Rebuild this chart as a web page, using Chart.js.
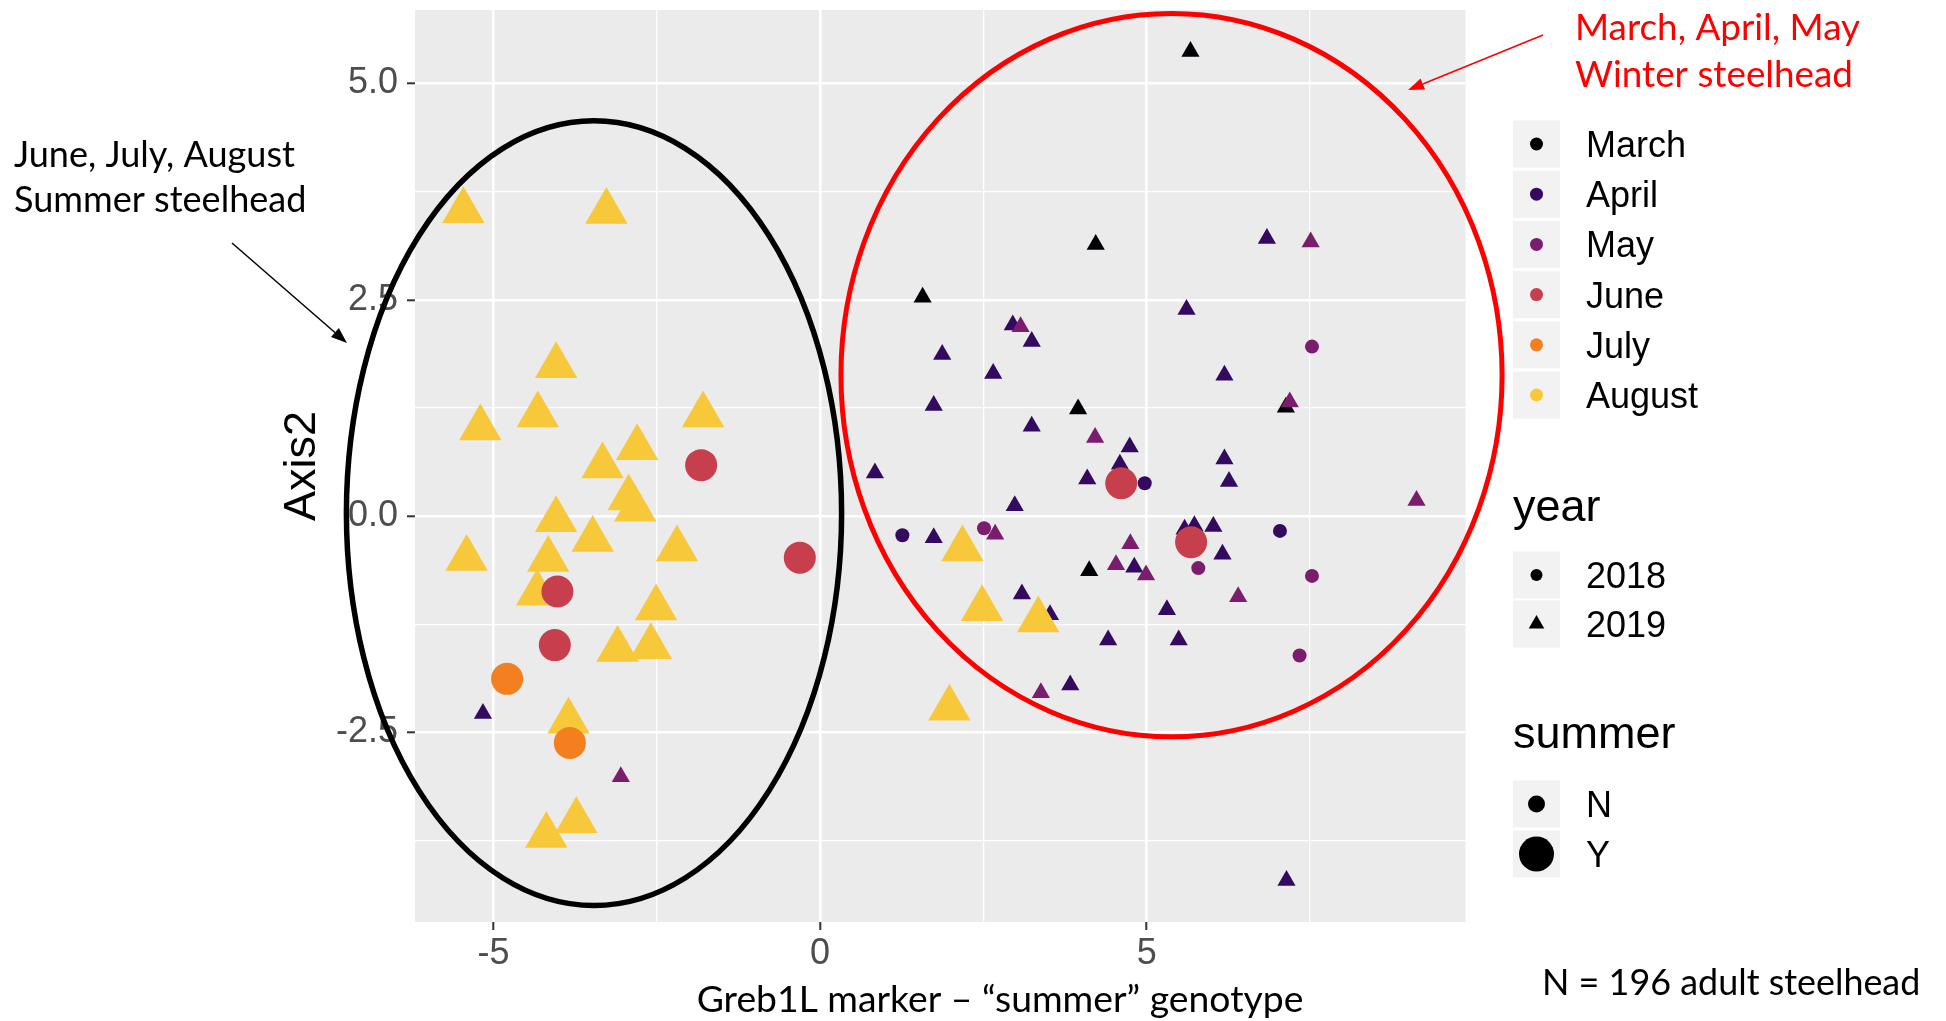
<!DOCTYPE html>
<html>
<head>
<meta charset="utf-8">
<title>Greb1L summer genotype – steelhead</title>
<script src="https://cdn.jsdelivr.net/npm/chart.js@4.4.1/dist/chart.umd.min.js"></script>
<style>
    html, body { margin: 0; padding: 0; background: #ffffff; }
    #wrap { position: relative; width: 1946px; height: 1021px; }
</style>
</head>
<body>
<div id="wrap"><canvas id="chart" width="1946" height="1021"></canvas></div>
<script>
/* ==========================================================================
   資料
   ========================================================================== */

// 座標軸範圍與刻度
const xRange = [-6.20, 9.88];
const yRange = [-4.69, 5.85];
const xMajorTicks = [-5, 0, 5];
const xTickLabels = ['-5', '0', '5'];
const xMinorTicks = [-2.5, 2.5, 7.5];
const yMajorTicks = [-2.5, 0, 2.5, 5];
const yTickLabels = ['-2.5', '0.0', '2.5', '5.0'];
const yMinorTicks = [-3.75, -1.25, 1.25, 3.75];

// 圖例分類
const months = ['March', 'April', 'May', 'June', 'July', 'August'];
const monthColors = ['#000004', '#330A5F', '#7B1D6F', '#C73E4C', '#F37F1E', '#F7C93A'];
const years = ['2018', '2019'];
const summerLevels = ['N', 'Y'];

// 各組資料點 [Greb1L, Axis2]
const march2019 = [[5.67, 5.37], [4.22, 3.14], [1.57, 2.53], [3.95, 1.24], [7.13, 1.26], [4.12, -0.63]];
const april2018 = [[4.97, 0.38], [1.26, -0.22], [7.04, -0.17]];
const april2019 = [
    [6.84, 3.21], [5.61, 2.39], [2.95, 2.21], [3.24, 2.02], [1.87, 1.87], [2.65, 1.65],
    [6.19, 1.63], [1.74, 1.28], [3.24, 1.04], [4.74, 0.80], [6.19, 0.66], [4.59, 0.60],
    [0.84, 0.50], [6.26, 0.40], [4.09, 0.43], [2.98, 0.12], [1.74, -0.25], [5.73, -0.11],
    [5.58, -0.15], [6.02, -0.12], [6.16, -0.44], [4.81, -0.59], [3.09, -0.90], [3.52, -1.14],
    [5.31, -1.08], [4.41, -1.43], [5.49, -1.43], [3.83, -1.95], [7.14, -4.21], [-5.16, -2.28]
];
const may2018 = [[7.53, 1.96], [2.51, -0.14], [5.79, -0.60], [7.53, -0.69], [7.34, -1.61]];
const may2019 = [
    [7.51, 3.17], [3.07, 2.19], [7.19, 1.32], [4.21, 0.91], [9.13, 0.18], [2.68, -0.21],
    [4.75, -0.32], [4.53, -0.56], [4.99, -0.68], [6.40, -0.93], [3.38, -2.04], [-3.05, -3.01]
];
const june2018 = [[-1.82, 0.59], [-0.31, -0.48], [-4.02, -0.87], [-4.06, -1.49], [4.61, 0.38], [5.68, -0.30]];
const july2018 = [[-4.79, -1.88], [-3.83, -2.62]];
const august2019 = [
    [-5.46, 3.53], [-3.27, 3.52], [-4.04, 1.74], [-5.20, 1.02], [-4.32, 1.17], [-1.79, 1.17],
    [-2.80, 0.79], [-3.33, 0.58], [-2.93, 0.21], [-2.83, 0.08], [-4.04, -0.04], [-3.48, -0.27],
    [-5.41, -0.49], [-4.16, -0.50], [-2.19, -0.38], [-4.33, -0.89], [-2.51, -1.06], [-3.10, -1.54],
    [-2.59, -1.51], [-3.85, -2.37], [-3.73, -3.52], [-4.19, -3.69], [2.18, -0.38], [2.48, -1.07],
    [3.34, -1.20], [1.98, -2.22]
];

// 註解文字
const summerNote = ['June, July, August', 'Summer steelhead'];
const winterNote = ['March, April, May', 'Winter steelhead'];
const sampleNote = 'N = 196 adult steelhead';
const xTitle = 'Greb1L marker – “summer” genotype';
const yTitle = 'Axis2';

/* ==========================================================================
   資料集設定
   ========================================================================== */

// month / year / summer 索引，order 越小越晚畫（在上層）
const groups = [
    { points: march2019, month: 0, year: 1, summer: 0, order: 8 },
    { points: april2018, month: 1, year: 0, summer: 0, order: 7 },
    { points: april2019, month: 1, year: 1, summer: 0, order: 6 },
    { points: may2018, month: 2, year: 0, summer: 0, order: 5 },
    { points: may2019, month: 2, year: 1, summer: 0, order: 4 },
    { points: august2019, month: 5, year: 1, summer: 1, order: 3 },
    { points: june2018, month: 3, year: 0, summer: 1, order: 2 },
    { points: july2018, month: 4, year: 0, summer: 1, order: 1 }
];

function markerRadius(year, summer) {
    if (year === 1) return summer ? 24.5 : 10.5;   // 三角形
    return summer ? 16 : 7;                        // 圓形
}

const datasets = groups.map(g => ({
    label: months[g.month] + ' ' + years[g.year] + ' ' + summerLevels[g.summer],
    data: g.points.map(p => ({ x: p[0], y: p[1] })),
    order: g.order,
    pointStyle: g.year === 1 ? 'triangle' : 'circle',
    pointRadius: markerRadius(g.year, g.summer),
    pointHoverRadius: markerRadius(g.year, g.summer),
    backgroundColor: monthColors[g.month],
    borderWidth: 0,
    pointBorderWidth: 0
}));

/* ==========================================================================
   繪圖工具
   ========================================================================== */

const SANS = "'Liberation Sans', Arial, sans-serif";
const CALIBRI_LIKE = "Lato, 'Open Sans', sans-serif";

function fitFontSize(ctx, text, family, targetWidth) {
    ctx.font = '100px ' + family;
    return 100 * targetWidth / ctx.measureText(text).width;
}

function drawEllipse(ctx, xs, ys, e, color, width) {
    const cx = xs.getPixelForValue(e.cx);
    const cy = ys.getPixelForValue(e.cy);
    const rx = Math.abs(xs.getPixelForValue(e.cx + e.rx) - cx);
    const ry = Math.abs(ys.getPixelForValue(e.cy + e.ry) - cy);
    ctx.save();
    ctx.strokeStyle = color;
    ctx.lineWidth = width;
    ctx.beginPath();
    ctx.ellipse(cx, cy, rx, ry, 0, 0, Math.PI * 2);
    ctx.stroke();
    ctx.restore();
}

function drawArrow(ctx, x1, y1, x2, y2, color, width, headLen, headHalf) {
    const ang = Math.atan2(y2 - y1, x2 - x1);
    const bx = x2 - Math.cos(ang) * headLen;
    const by = y2 - Math.sin(ang) * headLen;
    ctx.save();
    ctx.strokeStyle = color;
    ctx.fillStyle = color;
    ctx.lineWidth = width;
    ctx.beginPath();
    ctx.moveTo(x1, y1);
    ctx.lineTo(bx, by);
    ctx.stroke();
    ctx.beginPath();
    ctx.moveTo(x2, y2);
    ctx.lineTo(bx + Math.sin(ang) * headHalf, by - Math.cos(ang) * headHalf);
    ctx.lineTo(bx - Math.sin(ang) * headHalf, by + Math.cos(ang) * headHalf);
    ctx.closePath();
    ctx.fill();
    ctx.restore();
}

function drawKeyMarker(ctx, cx, cy, style, r, color) {
    ctx.fillStyle = color;
    ctx.beginPath();
    if (style === 'triangle') {
        ctx.moveTo(cx, cy - r);
        ctx.lineTo(cx + r * 0.866, cy + r / 2);
        ctx.lineTo(cx - r * 0.866, cy + r / 2);
        ctx.closePath();
    } else {
        ctx.arc(cx, cy, r, 0, Math.PI * 2);
    }
    ctx.fill();
}

function drawLegend(ctx) {
    const keyX = 1513, keySize = 47, labelX = 1586;
    const labelFont = '36px ' + SANS;
    const titleFont = '45px ' + SANS;

    function keyRow(cy, label, style, r, color) {
        ctx.fillStyle = '#F2F2F2';
        ctx.fillRect(keyX, cy - keySize / 2, keySize, keySize);
        drawKeyMarker(ctx, keyX + keySize / 2, cy, style, r, color);
        ctx.fillStyle = '#000000';
        ctx.font = labelFont;
        ctx.textAlign = 'left';
        ctx.textBaseline = 'alphabetic';
        ctx.fillText(label, labelX, cy + 13);
    }

    ctx.save();
    months.forEach((m, i) => keyRow(144 + i * 50.2, m, 'circle', 6.5, monthColors[i]));

    ctx.font = titleFont;
    ctx.fillStyle = '#000000';
    ctx.textAlign = 'left';
    ctx.fillText('year', keyX, 521);
    keyRow(575, years[0], 'circle', 6, '#000000');
    keyRow(624, years[1], 'triangle', 9, '#000000');

    ctx.font = titleFont;
    ctx.fillStyle = '#000000';
    ctx.fillText('summer', keyX, 748);
    keyRow(804, summerLevels[0], 'circle', 8.5, '#000000');
    keyRow(854, summerLevels[1], 'circle', 17.5, '#000000');
    ctx.restore();
}

/* ==========================================================================
   外掛：面板背景、註解、圖例
   ========================================================================== */

const steelheadPlugin = {
    id: 'steelheadDecor',
    beforeDraw(chart) {
        const { ctx, chartArea: a } = chart;
        ctx.save();
        ctx.fillStyle = '#EBEBEB';
        ctx.fillRect(a.left, a.top, a.right - a.left, a.bottom - a.top);
        ctx.restore();
    },
    afterDraw(chart) {
        const ctx = chart.ctx;
        const xs = chart.scales.x;
        const ys = chart.scales.y;

        // Y 軸標題
        ctx.save();
        ctx.translate(303, (chart.chartArea.top + chart.chartArea.bottom) / 2);
        ctx.rotate(-Math.PI / 2);
        ctx.font = '45px ' + SANS;
        ctx.fillStyle = '#000000';
        ctx.textAlign = 'center';
        ctx.textBaseline = 'middle';
        ctx.fillText(yTitle, 0, 0);
        ctx.restore();

        // X 軸標題
        ctx.save();
        ctx.fillStyle = '#000000';
        ctx.textAlign = 'center';
        ctx.textBaseline = 'alphabetic';
        ctx.font = fitFontSize(ctx, xTitle, CALIBRI_LIKE, 607).toFixed(1) + 'px ' + CALIBRI_LIKE;
        ctx.fillText(xTitle, 1000, 1012);
        ctx.restore();

        // 橢圓圈選
        drawEllipse(ctx, xs, ys, { cx: -3.46, cy: 0.035, rx: 3.79, ry: 4.535 }, '#000000', 5.5);
        drawEllipse(ctx, xs, ys, { cx: 5.38, cy: 1.63, rx: 5.06, ry: 4.18 }, '#FF0000', 5);

        // 註解文字
        ctx.save();
        ctx.textAlign = 'left';
        ctx.textBaseline = 'alphabetic';
        ctx.fillStyle = '#000000';
        ctx.font = fitFontSize(ctx, summerNote[0], CALIBRI_LIKE, 281).toFixed(1) + 'px ' + CALIBRI_LIKE;
        ctx.fillText(summerNote[0], 14, 167);
        ctx.fillText(summerNote[1], 14, 212);

        ctx.fillStyle = '#FF0000';
        ctx.font = fitFontSize(ctx, winterNote[0], CALIBRI_LIKE, 285).toFixed(1) + 'px ' + CALIBRI_LIKE;
        ctx.fillText(winterNote[0], 1575, 40);
        ctx.fillText(winterNote[1], 1575, 87);

        ctx.fillStyle = '#000000';
        ctx.font = fitFontSize(ctx, sampleNote, CALIBRI_LIKE, 378).toFixed(1) + 'px ' + CALIBRI_LIKE;
        ctx.fillText(sampleNote, 1542, 995);
        ctx.restore();

        // 箭頭
        drawArrow(ctx, 232, 243, 347, 343, '#000000', 1.5, 16, 6);
        drawArrow(ctx, 1543, 35, 1408, 90, '#FF0000', 1.5, 16, 6);

        drawLegend(ctx);
    }
};

/* ==========================================================================
   Chart.js 設定
   ========================================================================== */

Chart.defaults.font.family = SANS;

function isIn(list, v) {
    return list.some(t => Math.abs(t - v) < 1e-9);
}

function gridOptions(majors) {
    return {
        color: '#FFFFFF',
        lineWidth: ctx => (ctx.tick && isIn(majors, ctx.tick.value)) ? 2.6 : 1.3,
        drawTicks: true,
        tickLength: 8,
        tickWidth: 2,
        tickColor: ctx => (ctx.tick && isIn(majors, ctx.tick.value)) ? '#333333' : 'rgba(0,0,0,0)'
    };
}

// 移除 Chart.js 為首尾刻度標籤保留的額外邊距，讓繪圖區位置固定
function clearScalePadding(s) {
    s.paddingTop = 0;
    s.paddingBottom = 0;
    s.paddingLeft = 0;
    s.paddingRight = 0;
}

new Chart(document.getElementById('chart').getContext('2d'), {
    type: 'scatter',
    data: { datasets: datasets },
    options: {
        responsive: false,
        animation: false,
        devicePixelRatio: 1,
        layout: {
            autoPadding: false,
            padding: { left: 0, top: 10, right: 480.5, bottom: 0 }
        },
        plugins: {
            legend: { display: false },
            tooltip: { enabled: false }
        },
        scales: {
            x: {
                type: 'linear',
                min: xRange[0],
                max: xRange[1],
                afterFit: s => { s.height = 99; clearScalePadding(s); },
                afterBuildTicks: s => {
                    s.ticks = xMajorTicks.concat(xMinorTicks).sort((a, b) => a - b).map(v => ({ value: v }));
                },
                grid: gridOptions(xMajorTicks),
                border: { display: false },
                ticks: {
                    color: '#4D4D4D',
                    font: { size: 36 },
                    padding: 2,
                    maxRotation: 0,
                    autoSkip: false,
                    callback: v => {
                        const i = xMajorTicks.findIndex(t => Math.abs(t - v) < 1e-9);
                        return i >= 0 ? xTickLabels[i] : '';
                    }
                }
            },
            y: {
                type: 'linear',
                min: yRange[0],
                max: yRange[1],
                afterFit: s => { s.width = 415; clearScalePadding(s); },
                afterBuildTicks: s => {
                    s.ticks = yMajorTicks.concat(yMinorTicks).sort((a, b) => a - b).map(v => ({ value: v }));
                },
                grid: gridOptions(yMajorTicks),
                border: { display: false },
                ticks: {
                    color: '#4D4D4D',
                    font: { size: 36 },
                    padding: 9,
                    autoSkip: false,
                    callback: v => {
                        const i = yMajorTicks.findIndex(t => Math.abs(t - v) < 1e-9);
                        return i >= 0 ? yTickLabels[i] : '';
                    }
                }
            }
        }
    },
    plugins: [steelheadPlugin]
});
</script>
</body>
</html>
